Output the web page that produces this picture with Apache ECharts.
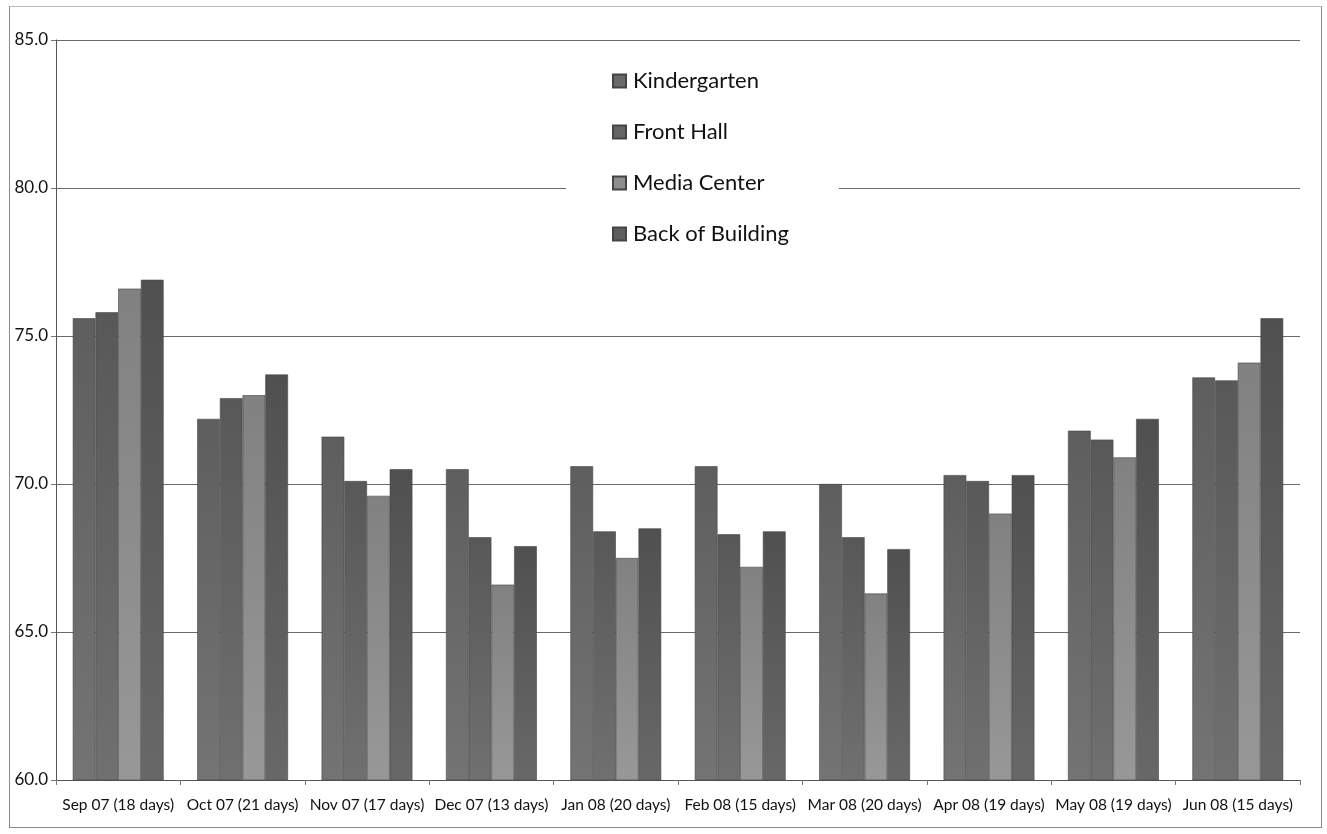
<!DOCTYPE html>
<html>
<head>
<meta charset="utf-8">
<script src="https://cdn.jsdelivr.net/npm/echarts@6/dist/echarts.min.js"></script>
<style>
html,body{margin:0;padding:0;background:#fff;}
#frame{position:absolute;left:9px;top:6px;width:1311px;height:820px;border:1px solid #8a8a8a;border-top-color:#bbb;}
#chart{position:absolute;left:0;top:0;width:1327px;height:834px;}
</style>
</head>
<body>
<div id="frame"></div>
<div id="chart"></div>
<script>
const categories = ["Sep 07 (18 days)","Oct 07 (21 days)","Nov 07 (17 days)","Dec 07 (13 days)","Jan 08 (20 days)","Feb 08 (15 days)","Mar 08 (20 days)","Apr 08 (19 days)","May 08 (19 days)","Jun 08 (15 days)"];
const kindergarten = [75.6, 72.2, 71.6, 70.5, 70.6, 70.6, 70.0, 70.3, 71.8, 73.6];
const frontHall    = [75.8, 72.9, 70.1, 68.2, 68.4, 68.3, 68.2, 70.1, 71.5, 73.5];
const mediaCenter  = [76.6, 73.0, 69.6, 66.6, 67.5, 67.2, 66.3, 69.0, 70.9, 74.1];
const backBuilding = [76.9, 73.7, 70.5, 67.9, 68.5, 68.4, 67.8, 70.3, 72.2, 75.6];
const seriesNames = ["Kindergarten","Front Hall","Media Center","Back of Building"];
const yTicks = {min: 60, max: 85, interval: 5};

function grad(top, bottom){
  return new echarts.graphic.LinearGradient(0,0,0,1,[{offset:0,color:top},{offset:1,color:bottom}]);
}
const colors = [
  grad('#5e5e5e','#747474'),
  grad('#585858','#707070'),
  grad('#818181','#989898'),
  grad('#505050','#686868')
];
const legendColors = ['#6a6a6a','#646464','#8e8e8e','#5e5e5e'];
const datasets = [kindergarten, frontHall, mediaCenter, backBuilding];

const chart = echarts.init(document.getElementById('chart'), null, {renderer:'canvas'});
chart.setOption({
  animation: false,
  color: legendColors,
  grid: {left: 56, right: 27, top: 40, bottom: 54, containLabel: false},
  legend: {
    orient: 'vertical',
    left: 566, top: 62,
    itemGap: 29,
    itemWidth: 13, itemHeight: 13,
    icon: 'rect',
    backgroundColor: '#fff',
    padding: [8, 50, 10, 46],
    textStyle: {fontFamily: 'Lato', fontSize: 22, color: '#111', padding: [0,0,0,2]},
    data: seriesNames.map((n,i)=>({name:n, itemStyle:{color:legendColors[i]}}))
  },
  xAxis: {
    type: 'category',
    data: categories,
    axisLine: {lineStyle: {color: '#555', width: 1}},
    axisTick: {show: true, length: 5, lineStyle:{color:'#777'}},
    axisLabel: {fontFamily: 'Lato', fontSize: 15.5, color: '#111', margin: 17, interval: 0}
  },
  yAxis: {
    type: 'value',
    min: yTicks.min, max: yTicks.max, interval: yTicks.interval,
    axisLine: {show: true, lineStyle: {color: '#555', width: 1}},
    axisTick: {show: true, length: 5, lineStyle:{color:'#777'}},
    axisLabel: {fontFamily: 'Lato', fontSize: 17, color: '#111', margin: 8, formatter: v => v.toFixed(1)},
    splitLine: {show: true, lineStyle: {color: '#6a6a6a', width: 1}}
  },
  series: datasets.map((d,i)=>({
    name: seriesNames[i],
    type: 'bar',
    data: d,
    barGap: '0%',
    barCategoryGap: '27%',
    itemStyle: {color: colors[i], borderColor: '#444', borderWidth: 0.6}
  }))
});
</script>
</body>
</html>
